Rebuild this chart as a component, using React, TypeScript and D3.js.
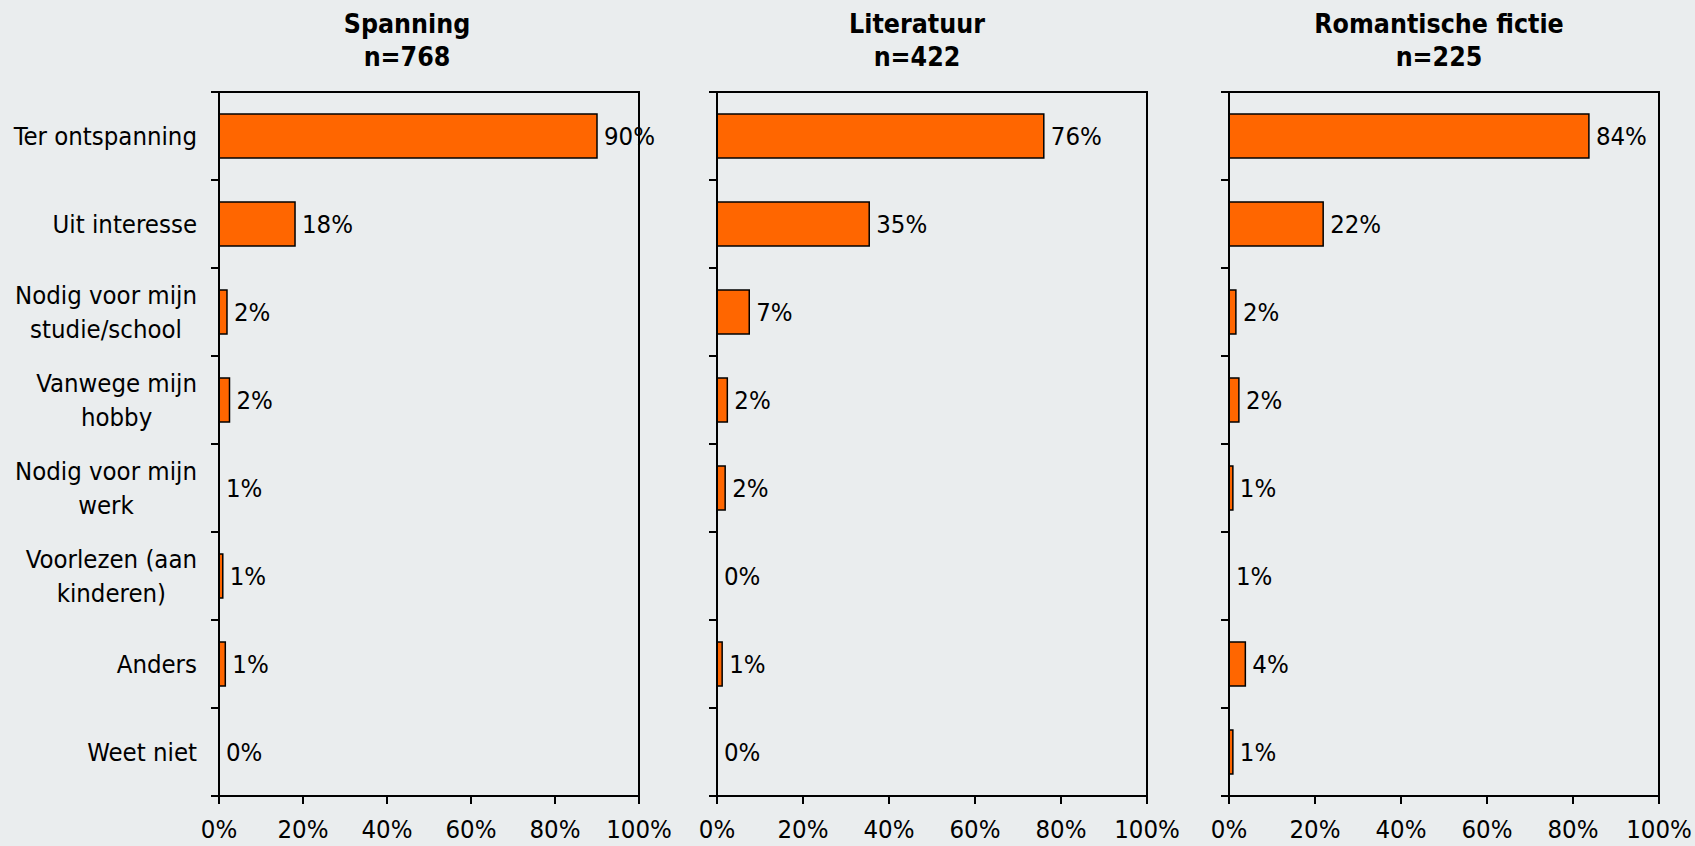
import { useEffect, useRef } from 'react'
import * as d3 from 'd3'

// categories (top to bottom), '\n' marks a line break in the label
const categories = [
  'Ter ontspanning',
  'Uit interesse',
  'Nodig voor mijn\nstudie/school',
  'Vanwege mijn\nhobby',
  'Nodig voor mijn\nwerk',
  'Voorlezen (aan\nkinderen)',
  'Anders',
  'Weet niet'
]

const panelTitles = ['Spanning', 'Literatuur', 'Romantische fictie']
const panelCounts = ['n=768', 'n=422', 'n=225']

// bar lengths (%) as read off the picture, and the printed labels
// (a few 1% answers show no visible bar in the source, kept at 0 length)
const spanningValues = [90, 18.1, 1.9, 2.5, 0, 0.9, 1.5, 0]
const spanningLabels = ['90%', '18%', '2%', '2%', '1%', '1%', '1%', '0%']

const literatuurValues = [76, 35.4, 7.5, 2.4, 1.9, 0, 1.2, 0]
const literatuurLabels = ['76%', '35%', '7%', '2%', '2%', '0%', '1%', '0%']

const romantischValues = [83.7, 21.9, 1.6, 2.3, 0.9, 0, 3.8, 0.9]
const romantischLabels = ['84%', '22%', '2%', '2%', '1%', '1%', '4%', '1%']

const xTicks = [0, 20, 40, 60, 80, 100]

const W = 1695
const H = 846
const FONT = "'DejaVu Sans Condensed', 'DejaVu Sans', sans-serif"
const BG = '#eaedee'
const BAR = '#ff6600'

export default function App() {
  const svgRef = useRef<SVGSVGElement>(null)

  useEffect(() => {
    if (!svgRef.current) return
    const svg = d3.select(svgRef.current)
    svg.selectAll('*').remove()

    svg.append('rect').attr('width', W).attr('height', H).attr('fill', BG)

    const top = 92
    const bottom = 796
    const tickLen = 8

    const y = d3.scaleBand<string>()
      .domain(categories)
      .range([top, bottom])
      .paddingInner(0.5)
      .paddingOuter(0.25)

    const step = y.step()

    const panels = [
      { x0: 219, x1: 639, titleX: 407, values: spanningValues, labels: spanningLabels },
      { x0: 717, x1: 1147, titleX: 917, values: literatuurValues, labels: literatuurLabels },
      { x0: 1229, x1: 1659, titleX: 1439, values: romantischValues, labels: romantischLabels }
    ]

    panels.forEach((p, pi) => {
      const x = d3.scaleLinear().domain([0, 100]).range([p.x0, p.x1])
      const g = svg.append('g')

      // title
      const title = g.append('text')
        .attr('x', p.titleX)
        .attr('text-anchor', 'middle')
        .style('font-family', FONT)
        .style('font-size', '26.5px')
        .style('font-weight', 'bold')
        .attr('fill', '#000')
      title.append('tspan').attr('x', p.titleX).attr('y', 33).text(panelTitles[pi])
      title.append('tspan').attr('x', p.titleX).attr('y', 66).text(panelCounts[pi])

      // bars
      g.selectAll('rect.bar')
        .data(p.values.map((v, i) => ({ v, c: categories[i] })).filter(d => d.v > 0))
        .join('rect')
        .attr('class', 'bar')
        .attr('x', x(0))
        .attr('y', d => y(d.c)!)
        .attr('width', d => x(d.v) - x(0))
        .attr('height', y.bandwidth())
        .attr('fill', BAR)
        .attr('stroke', '#000')
        .attr('stroke-width', 1.5)

      // value labels
      g.selectAll('text.val')
        .data(p.values)
        .join('text')
        .attr('class', 'val')
        .attr('x', d => x(d) + 7)
        .attr('y', (d, i) => y(categories[i])! + y.bandwidth() / 2 + 9)
        .style('font-family', FONT)
        .style('font-size', '25.5px')
        .attr('fill', '#000')
        .text((d, i) => p.labels[i])

      // frame: top and right
      g.append('path')
        .attr('d', `M${x(0)},${top}H${x(100)}V${bottom}`)
        .attr('fill', 'none')
        .attr('stroke', '#000')
        .attr('stroke-width', 2)

      // left axis with ticks at band boundaries
      const boundaries = d3.range(categories.length + 1).map(i => top + i * step)
      g.append('line')
        .attr('x1', x(0)).attr('x2', x(0))
        .attr('y1', top).attr('y2', bottom + tickLen)
        .attr('stroke', '#000').attr('stroke-width', 2)
      g.selectAll('line.ytick')
        .data(boundaries)
        .join('line')
        .attr('class', 'ytick')
        .attr('x1', x(0) - tickLen).attr('x2', x(0))
        .attr('y1', d => d).attr('y2', d => d)
        .attr('stroke', '#000').attr('stroke-width', 2)

      // bottom axis
      g.append('line')
        .attr('x1', x(0)).attr('x2', x(100))
        .attr('y1', bottom).attr('y2', bottom)
        .attr('stroke', '#000').attr('stroke-width', 2)
      g.selectAll('line.xtick')
        .data(xTicks)
        .join('line')
        .attr('class', 'xtick')
        .attr('x1', d => x(d)).attr('x2', d => x(d))
        .attr('y1', bottom).attr('y2', bottom + tickLen)
        .attr('stroke', '#000').attr('stroke-width', 2)
      g.selectAll('text.xlab')
        .data(xTicks)
        .join('text')
        .attr('class', 'xlab')
        .attr('x', d => x(d))
        .attr('y', 838)
        .attr('text-anchor', 'middle')
        .style('font-family', FONT)
        .style('font-size', '25.5px')
        .attr('fill', '#000')
        .text(d => `${d}%`)
    })

    // category labels (only on the first panel), block right-aligned, lines centred
    const labelRight = 197
    const lineGap = 34
    categories.forEach(c => {
      const lines = c.split('\n')
      const cy = y(c)! + y.bandwidth() / 2
      const t = svg.append('text')
        .attr('text-anchor', 'middle')
        .style('font-family', FONT)
        .style('font-size', '25.5px')
        .attr('fill', '#000')
      const spans = lines.map((line, i) =>
        t.append('tspan')
          .attr('y', cy + (i - (lines.length - 1) / 2) * lineGap + 9)
          .text(line)
      )
      const maxW = d3.max(spans, s => (s.node() as SVGTSpanElement).getComputedTextLength()) || 0
      spans.forEach(s => s.attr('x', labelRight - maxW / 2))
    })
  }, [])

  return (
    <svg
      ref={svgRef}
      width={W}
      height={H}
      style={{ position: 'absolute', left: 0, top: 0, display: 'block' }}
    />
  )
}
